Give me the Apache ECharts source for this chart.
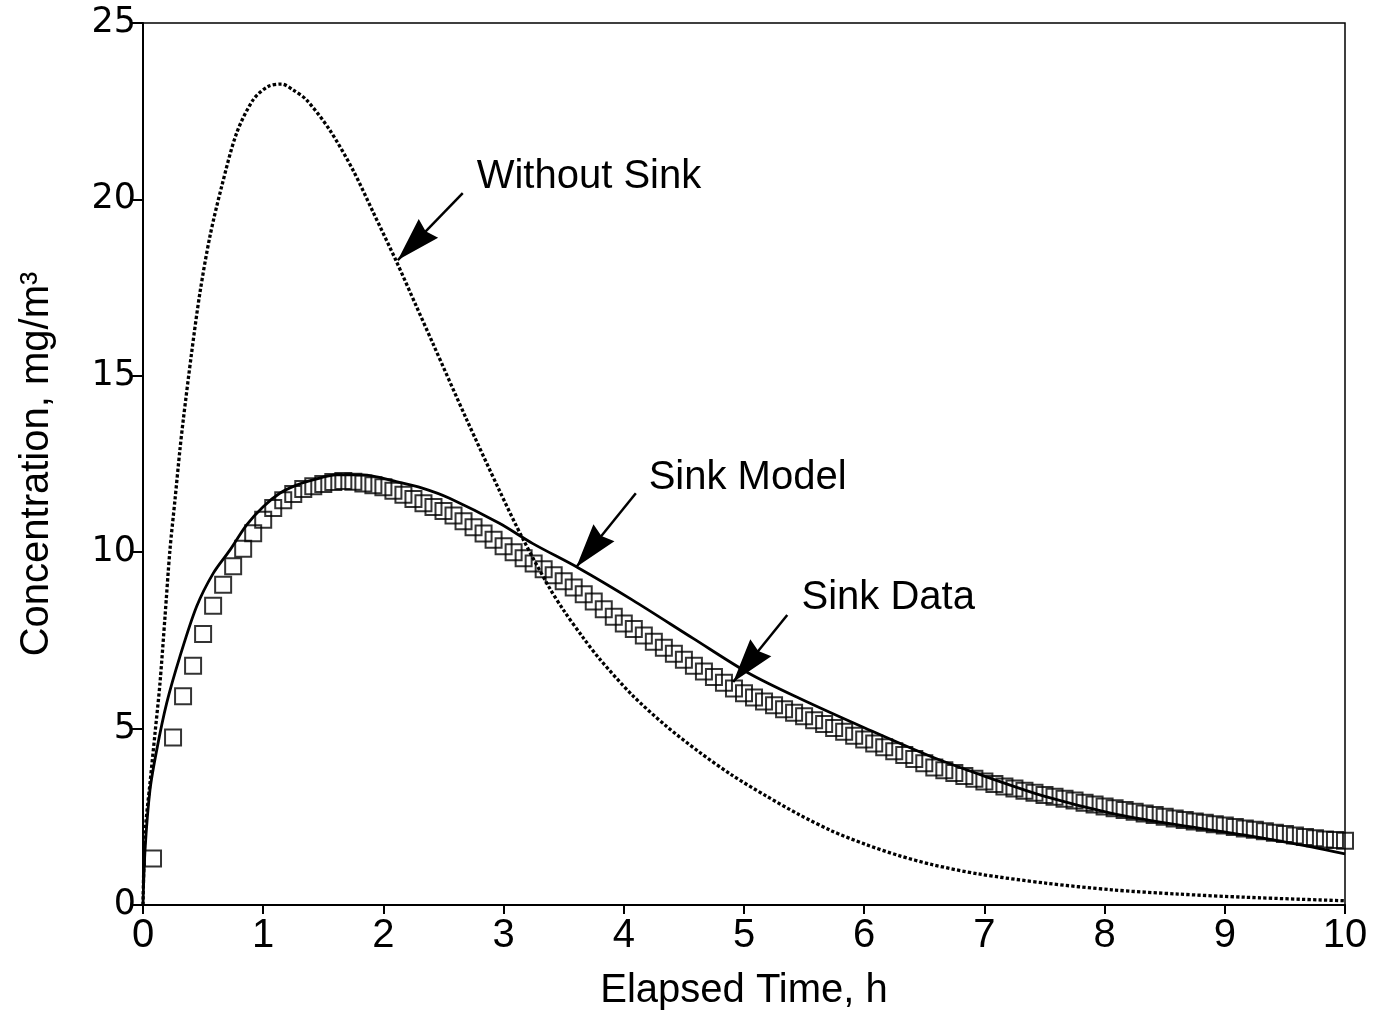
<!DOCTYPE html>
<html><head><meta charset="utf-8">
<script src="https://cdn.jsdelivr.net/npm/echarts@6/dist/echarts.min.js"></script>
<style>html,body{margin:0;padding:0;background:#fff}#c{width:1380px;height:1024px}</style>
</head><body><div id="c"></div>
<script>
// ---- data ----
// Sink Data: sample times (minutes) and measured concentration (mg/m3)
const dataMinutes = [5,15,20,25,30,35,40,45,50,55,60,65,70,75,80,85,90,95,100,105,110,115,120,
 125,130,135,140,145,150,155,160,165,170,175,180,185,190,195,200,205,210,215,220,225,230,235,240,
 245,250,255,260,265,270,275,280,285,290,295,300,305,310,315,320,325,330,335,340,345,350,355,360,
 365,370,375,380,385,390,395,400,405,410,415,420,425,430,435,440,445,450,455,460,465,470,475,480,
 485,490,495,500,505,510,515,520,525,530,535,540,545,550,555,560,565,570,575,580,585,590,595,600];
const dataConc = [1.32,4.75,5.92,6.78,7.68,8.48,9.08,9.6,10.1,10.54,10.92,11.25,11.47,11.65,11.79,11.87,11.93,11.99,12.02,12.0,11.95,11.9,11.84,
 11.74,11.63,11.51,11.39,11.28,11.17,11.04,10.88,10.71,10.53,10.35,10.17,
 10.0,9.83,9.68,9.52,9.35,9.18,9.0,8.81,8.6,8.38,8.17,7.98,
 7.82,7.64,7.46,7.29,7.12,6.95,6.78,6.62,6.46,6.3,6.14,6.0,
 5.88,5.77,5.66,5.55,5.45,5.35,5.24,5.13,5.02,4.91,4.8,4.69,
 4.58,4.47,4.36,4.25,4.14,4.02,3.9,3.82,3.74,3.66,3.58,3.5,
 3.43,3.36,3.3,3.24,3.18,3.12,3.07,3.01,2.96,2.9,2.85,2.79,
 2.74,2.69,2.64,2.59,2.55,2.5,2.45,2.41,2.37,2.33,2.29,2.25,
 2.21,2.17,2.13,2.09,2.05,2.01,1.97,1.93,1.89,1.86,1.84,1.82];

// Sink Model (solid line)
const modelTime = [0,0.017,0.058,0.114,0.197,0.307,0.446,0.584,0.723,0.861,1.0,1.138,1.277,1.414,1.609,1.83,2.107,2.33,2.55,2.965,3.24,3.63,4.07,4.58,5.04,5.46,6.01,6.56,7.01,7.51,8.06,8.61,9.17,9.72,10.0];
const modelConc = [0,1.56,3.26,4.39,5.72,7.04,8.46,9.4,10.06,10.77,11.29,11.67,11.9,12.05,12.19,12.19,12.0,11.81,11.53,10.82,10.25,9.54,8.65,7.55,6.57,5.86,5.01,4.2,3.64,3.07,2.6,2.27,1.98,1.65,1.45];

// Without Sink (dotted line)
const noSinkTime = [0,0.017,0.058,0.1,0.141,0.183,0.224,0.266,0.307,0.335,0.404,0.473,0.556,0.654,0.778,0.916,1.04,1.152,1.25,1.36,1.553,1.747,1.913,2.107,2.273,2.41,2.69,2.965,3.16,3.38,3.5,3.657,3.8,4.07,4.35,4.63,4.9,5.18,5.46,5.73,6.01,6.29,6.56,6.95,7.51,8.06,8.61,9.17,10.0];
const noSinkConc = [0,2.03,3.45,4.87,6.28,8.17,10.06,11.48,12.9,13.75,15.64,17.34,18.94,20.36,21.87,22.82,23.2,23.27,23.1,22.82,21.97,20.83,19.65,18.25,16.98,15.93,13.78,11.75,10.38,9.0,8.35,7.6,6.97,5.95,5.08,4.33,3.68,3.1,2.56,2.1,1.72,1.4,1.15,0.88,0.62,0.43,0.31,0.22,0.12];

const xTicks = [0,1,2,3,4,5,6,7,8,9,10];
const yTicks = [0,5,10,15,20,25];

// annotations: [label, labelPos, arrowFrom, arrowTip] in data units
const annotations = [
  ['Without Sink', [3.71, 20.63], [2.66, 20.18], [2.12, 18.28]],
  ['Sink Model',   [5.03, 12.10], [4.10, 11.67], [3.605, 9.58]],
  ['Sink Data',    [6.20, 8.70],  [5.36, 8.22],  [4.91, 6.32]]
];
// --------------------------------------

const chart = echarts.init(document.getElementById('c'), null, {renderer: 'canvas'});
const zip = (a, b) => a.map((v, i) => [v, b[i]]);
const font = 'Liberation Sans, Arial, Helvetica, sans-serif';
const headW = 27, headL = 44;
const headPath = 'path://M10,0 L20,44 L10,40 L0,44 Z';

chart.setOption({
  animation: false,
  backgroundColor: '#fff',
  grid: {left: 143, right: 35, top: 23, bottom: 119, show: true, borderColor: '#000', borderWidth: 1.5, backgroundColor: 'transparent'},
  xAxis: {
    type: 'value', min: xTicks[0], max: xTicks[xTicks.length - 1], interval: 1,
    name: 'Elapsed Time, h', nameLocation: 'middle', nameGap: 66,
    nameTextStyle: {fontFamily: font, fontSize: 40, color: '#000'},
    axisLine: {show: true, onZero: false, lineStyle: {color: '#000', width: 2}},
    axisTick: {show: true, inside: false, length: 9, lineStyle: {color: '#000', width: 2}},
    axisLabel: {fontFamily: font, fontSize: 40, color: '#000', margin: 11},
    splitLine: {show: false}
  },
  yAxis: {
    type: 'value', min: yTicks[0], max: yTicks[yTicks.length - 1], interval: 5,
    name: 'Concentration, mg/m³', nameLocation: 'middle', nameGap: 86,
    nameTextStyle: {fontFamily: font, fontSize: 40, color: '#000'},
    axisLine: {show: true, onZero: false, lineStyle: {color: '#000', width: 2}},
    axisTick: {show: true, inside: false, length: 11, lineStyle: {color: '#000', width: 2}},
    axisLabel: {fontFamily: 'DejaVu Sans, sans-serif', fontSize: 35, color: '#000', margin: 7},
    splitLine: {show: false}
  },
  series: [
    {
      name: 'Without Sink', type: 'line', data: zip(noSinkTime, noSinkConc),
      smooth: 0.3, showSymbol: false, symbol: 'none',
      lineStyle: {color: '#000', width: 3.3, type: [3.3, 2.2]}
    },
    {
      name: 'Sink Model', type: 'line', data: zip(modelTime, modelConc),
      smooth: 0.3, showSymbol: false, symbol: 'none',
      lineStyle: {color: '#000', width: 2.8},
      markLine: {
        silent: true, animation: false,
        lineStyle: {color: '#000', width: 2.5, type: 'solid'},
        itemStyle: {color: '#000'},
        label: {show: false},
        data: annotations.map(a => [
          {coord: a[2], symbol: 'none'},
          {coord: a[3], symbol: headPath, symbolSize: [headW, headL], symbolOffset: [0, headL / 2], symbolKeepAspect: false}
        ])
      },
      markPoint: {
        silent: true, animation: false, symbol: 'circle', symbolSize: 1,
        itemStyle: {color: 'rgba(0,0,0,0)'},
        label: {show: true, position: 'inside', fontFamily: font, fontSize: 40, color: '#000', formatter: p => p.name},
        data: annotations.map(a => ({name: a[0], coord: a[1]}))
      }
    },
    {
      name: 'Sink Data', type: 'scatter', data: zip(dataMinutes.map(m => m / 60), dataConc),
      symbol: 'rect', symbolSize: 16,
      itemStyle: {color: 'rgba(0,0,0,0)', borderColor: '#000', borderWidth: 2}
    }
  ]
});
</script>
</body></html>
